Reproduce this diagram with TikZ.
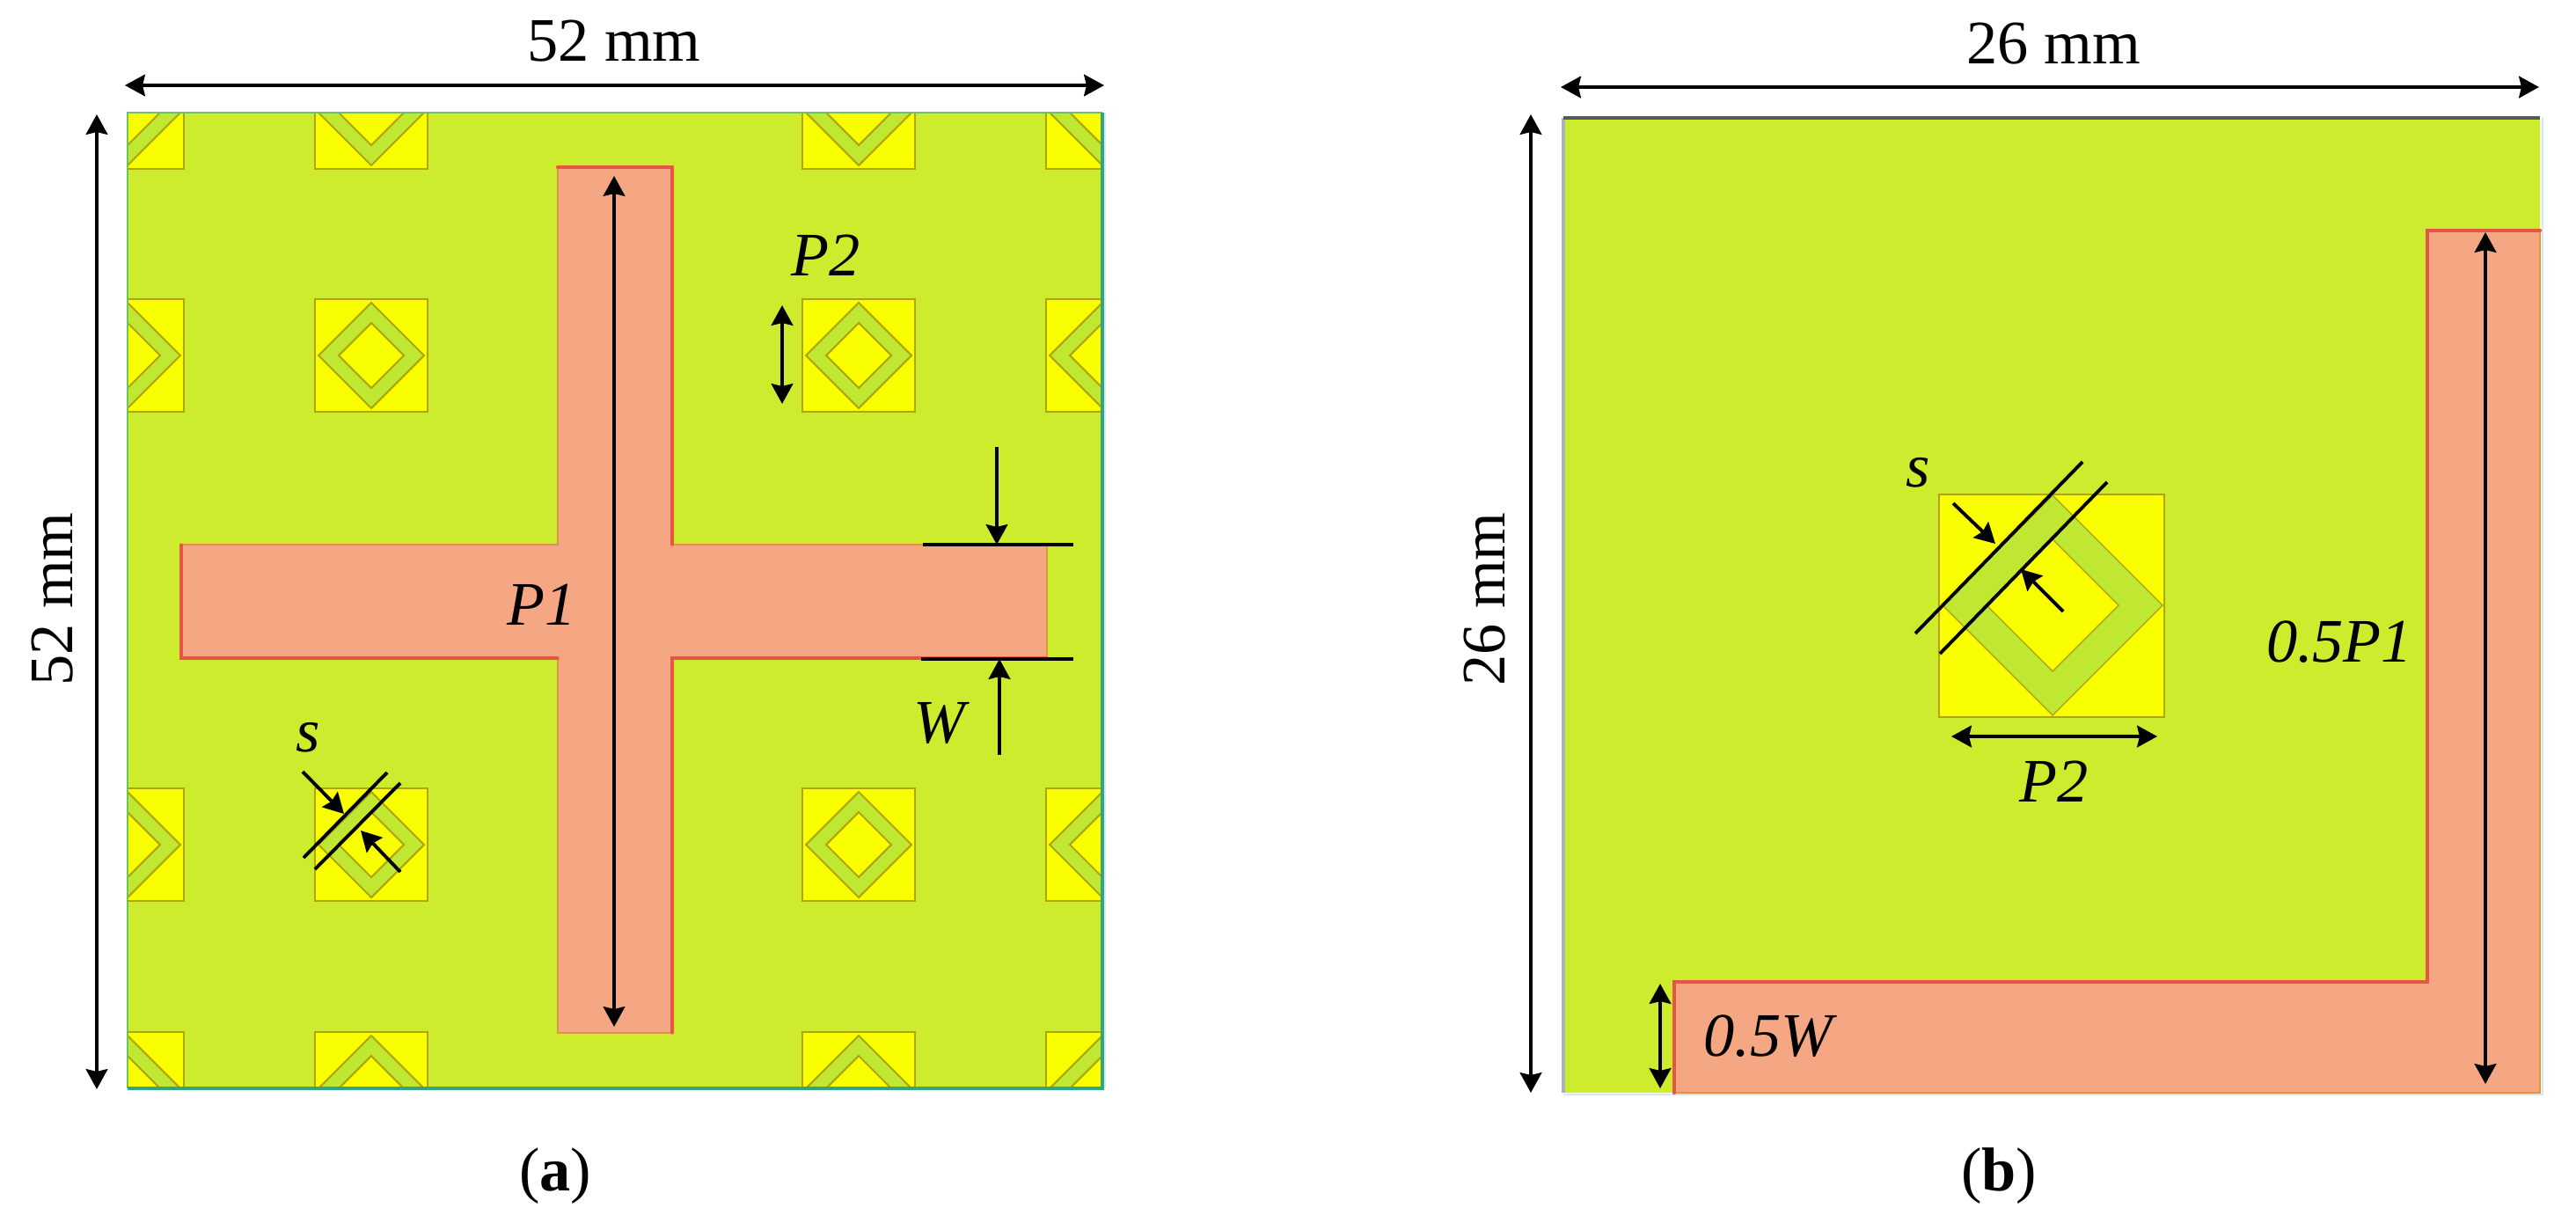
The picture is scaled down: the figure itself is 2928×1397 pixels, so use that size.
\documentclass[tikz,border=0pt]{standalone}
\usepackage{fontspec}
\setmainfont{Liberation Serif}
\usetikzlibrary{arrows.meta}
\definecolor{substrate}{RGB}{206,236,46}
\definecolor{cutcell}{RGB}{250,255,0}
\definecolor{cutring}{RGB}{192,232,50}
\definecolor{celledge}{RGB}{175,165,10}
\definecolor{slotfill}{RGB}{245,166,130}
\definecolor{slotedge}{RGB}{230,85,70}
\definecolor{slotrim}{RGB}{222,150,60}
\definecolor{borda}{RGB}{110,195,90}
\definecolor{bordb}{RGB}{50,165,130}
\definecolor{bordc}{RGB}{165,180,190}
\definecolor{bordd}{RGB}{215,232,236}
\tikzset{
    dimarrow/.style={line width=1.1pt,{Stealth[length=6.5pt,width=7pt,inset=0.8pt]}-{Stealth[length=6.5pt,width=7pt,inset=0.8pt]}},
    inarrow/.style={line width=1.1pt,-{Stealth[length=6.5pt,width=7pt,inset=0.8pt]}},
    dimline/.style={line width=1.1pt},
    lbl/.style={font=\fontsize{20}{20}\selectfont,inner sep=0pt},
    lbli/.style={font=\fontsize{20}{20}\selectfont\itshape,inner sep=0pt},
    cellsq/.style={fill=cutcell,draw=celledge,line width=0.7pt},
    cellring/.style={fill=cutring,draw=celledge,line width=0.6pt,even odd rule},
    slotred/.style={draw=slotedge,line width=0.9pt,line cap=round}
}
% #1,#2 centre, #3 half side, #4 outer and #5 inner half diagonal
\newcommand{\ringcell}[5]{
    \draw[cellsq] (#1-#3,#2-#3) rectangle (#1+#3,#2+#3);
    \draw[cellring] (#1-#4,#2) -- (#1,#2-#4) -- (#1+#4,#2) -- (#1,#2+#4) -- cycle
        (#1-#5,#2) -- (#1,#2-#5) -- (#1+#5,#2) -- (#1,#2+#5) -- cycle;
}
\begin{document}
\begin{tikzpicture}[x=0.01cm,y=-0.01cm]
\useasboundingbox (0,0) rectangle (2928,1397);

% (a)
\fill[substrate] (145,128) rectangle (1253,1237);
\begin{scope}
\clip (145,128) rectangle (1253,1237);
\foreach \x in {145,422,976,1253}
    \foreach \y in {128,404,960,1237}
    {
    \ringcell{\x}{\y}{64}{60}{37}
    }
\end{scope}
\draw[borda,line width=0.8pt] (145,1237) -- (145,128) -- (1253,128);
\draw[bordb,line width=1pt] (145,1237) -- (1253,1237) -- (1253,128);
\draw[bordd,line width=0.6pt] (1256,128) -- (1256,1237);
\draw[slotrim,fill=slotfill,line width=0.5pt] (206,619) -- (634,619) -- (634,190) -- (764,190) -- (764,619) -- (1190,619)
    -- (1190,748) -- (764,748) -- (764,1174) -- (634,1174) -- (634,748) -- (206,748) -- cycle;
\draw[slotred,line width=1.2pt] (634,190) -- (764,190);
\draw[slotred] (764,190) -- (764,619);
\draw[slotred] (206,619) -- (206,748) -- (634,748);
\draw[slotred] (1190,748) -- (764,748) -- (764,1174);

\draw[dimarrow] (142,97) -- (1255,97);
\draw[dimarrow] (110,130) -- (110,1238);
\draw[dimarrow] (698,200) -- (698,1167);
\draw[dimarrow] (889,347) -- (889,459);
\draw[dimline] (1049,619) -- (1220,619);
\draw[dimline] (1047,749) -- (1220,749);
\draw[inarrow] (1133,508) -- (1133,619);
\draw[inarrow] (1136,858) -- (1136,749);
\draw[dimline] (345,975) -- (440,878);
\draw[dimline] (358,988) -- (455,890);
\draw[inarrow] (344,877) -- (391,925);
\draw[inarrow] (455,991) -- (410,944);

\node[lbl] (widtha) at (698,47) {52 mm};
\node[lbl,rotate=90] (heighta) at (60,681) {52 mm};
\node[lbli] (ponea) at (616,687) {P1};
\node[lbli] (ptwoa) at (939,290) {P2};
\node[lbli] (wa) at (1068,822) {W};
\node[lbli] (sa) at (350,838) {s};
\node[lbl] (capa) at (631,1337) {(\textbf{a})};

% (b)
\fill[substrate] (1777,134) rectangle (2887,1242);
\draw[bordc,line width=1pt] (1777,1242) -- (1777,134);
\draw[black!50!bordc,line width=1pt] (1777,134) -- (2887,134);
\draw[bordd,line width=0.6pt] (1777,1244) -- (2890,1244) -- (2890,134);
\draw[cellsq] (2204,562) rectangle (2460,815);
\draw[cellring,line width=0.4pt] (2208,688) -- (2333,563) -- (2458,688) -- (2333,813) -- cycle
    (2258,688) -- (2333,613) -- (2408,688) -- (2333,763) -- cycle;
\draw[slotrim,fill=slotfill,line width=0.4pt] (1903,1242) -- (1903,1116) -- (2759,1116) -- (2759,262) -- (2887,262) -- (2887,1242) -- cycle;
\draw[slotred,line width=1.2pt] (1903,1242) -- (1903,1116) -- (2759,1116) -- (2759,262) -- (2887,262);

\draw[dimarrow] (1774,99) -- (2886,99);
\draw[dimarrow] (1740,130) -- (1740,1242);
\draw[dimarrow] (2825,264) -- (2825,1232);
\draw[dimarrow] (1887,1118) -- (1887,1237);
\draw[dimarrow] (2218,837) -- (2452,837);
\draw[dimline] (2177,720) -- (2367,525);
\draw[dimline] (2205,743) -- (2395,548);
\draw[inarrow] (2220,572) -- (2268,618);
\draw[inarrow] (2345,695) -- (2297,647);

\node[lbl] (widthb) at (2334,50) {26 mm};
\node[lbl,rotate=90] (heightb) at (1688,681) {26 mm};
\node[lbli] (poneb) at (2659,730) {0.5P1};
\node[lbli] (ptwob) at (2335,888) {P2};
\node[lbli] (wb) at (2010,1178) {0.5W};
\node[lbli] (sb) at (2180,537) {s};
\node[lbl] (capb) at (2272,1337) {(\textbf{b})};
\end{tikzpicture}
\end{document}
